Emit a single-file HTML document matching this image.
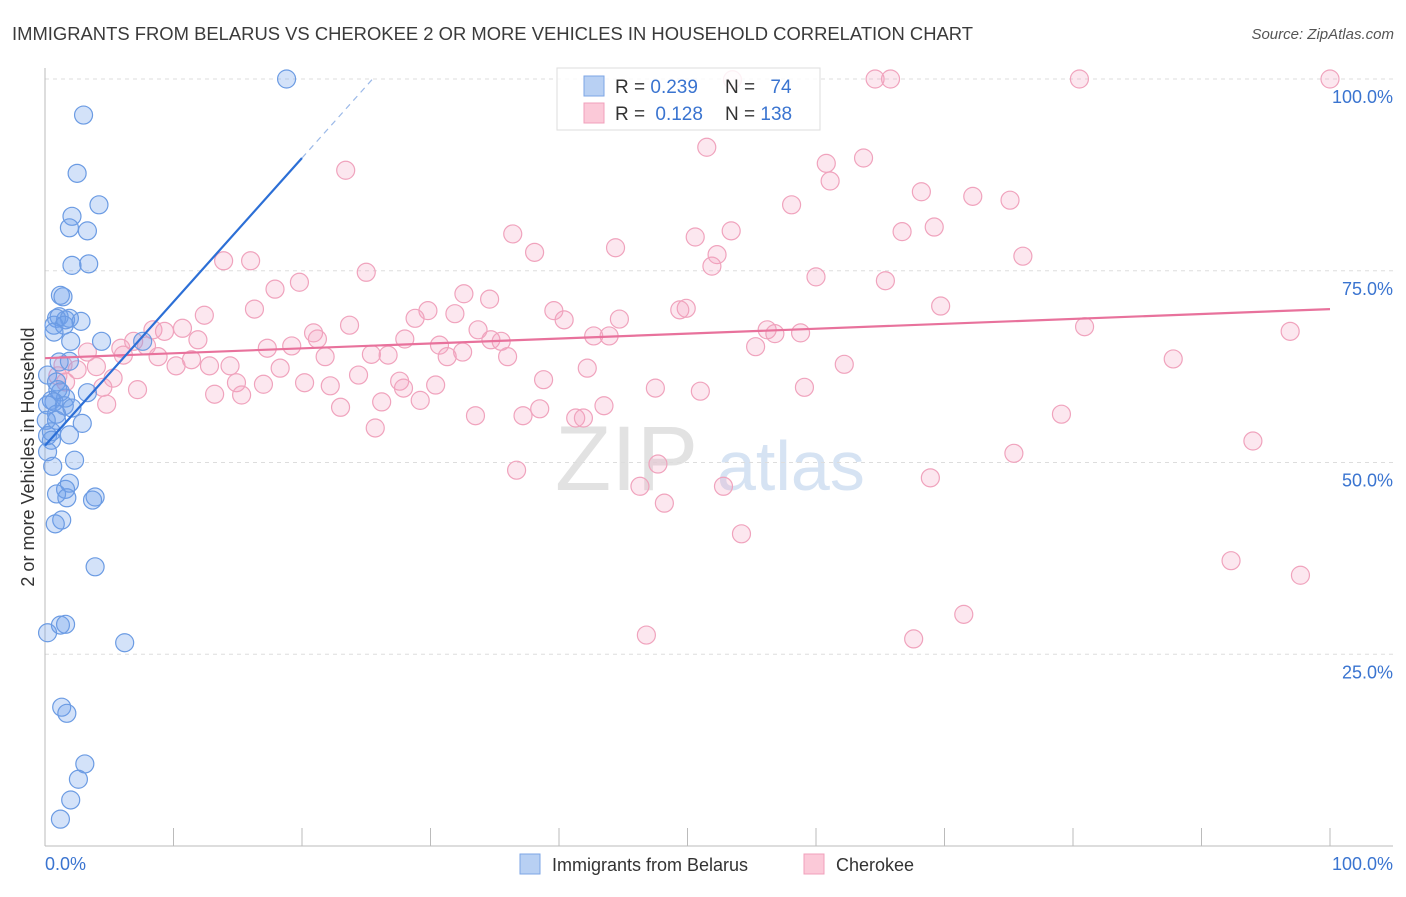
<!DOCTYPE html>
<html><head><meta charset="utf-8"><style>
body{margin:0;background:#fff;font-family:"Liberation Sans",sans-serif;}
svg text{font-family:"Liberation Sans",sans-serif;}
</style></head><body>
<svg id="chart" width="1406" height="892" xmlns="http://www.w3.org/2000/svg">
<text x="12" y="40" font-size="18" fill="#3a3a3a" textLength="961" lengthAdjust="spacingAndGlyphs">IMMIGRANTS FROM BELARUS VS CHEROKEE 2 OR MORE VEHICLES IN HOUSEHOLD CORRELATION CHART</text>
<text x="1394" y="39" font-size="15" fill="#555" text-anchor="end" font-style="italic">Source: ZipAtlas.com</text>
<text x="555" y="490" font-size="92" fill="#e2e2e2" font-family="Liberation Serif">ZIP</text>
<text x="717" y="490" font-size="70" fill="#d6e3f3">atlas</text>
<g id="grid"></g>
<g id="axes"></g>
<g id="pink"></g>
<g id="blue"></g>
<g id="lines"></g>
<text transform="translate(34,457) rotate(-90)" font-size="18" fill="#333" text-anchor="middle">2 or more Vehicles in Household</text>
<text x="45" y="870" font-size="18" fill="#3a74d0">0.0%</text>
<text x="1393" y="870" font-size="18" fill="#3a74d0" text-anchor="end">100.0%</text>
<g>
<rect x="557" y="68" width="263" height="62" fill="rgba(255,255,255,0.85)" stroke="#ddd"/>
<rect x="584" y="76" width="20" height="20" fill="#b8d0f3" stroke="#7da6e6"/>
<rect x="584" y="103" width="20" height="20" fill="#fbc9d8" stroke="#f0a0bb"/>
<text x="615" y="93" font-size="19" fill="#333">R = <tspan fill="#3a74d0">0.239</tspan></text>
<text x="725" y="93" font-size="19" fill="#333">N = <tspan fill="#3a74d0" dx="10">74</tspan></text>
<text x="615" y="120" font-size="19" fill="#333">R = <tspan fill="#3a74d0" dx="5">0.128</tspan></text>
<text x="725" y="120" font-size="19" fill="#333">N = <tspan fill="#3a74d0">138</tspan></text>
</g>
<g>
<rect x="520" y="854" width="20" height="20" fill="#b8d0f3" stroke="#7da6e6"/>
<text x="552" y="871" font-size="18" fill="#333">Immigrants from Belarus</text>
<rect x="804" y="854" width="20" height="20" fill="#fbc9d8" stroke="#f0a0bb"/>
<text x="836" y="871" font-size="18" fill="#333">Cherokee</text>
</g>
</svg>
<script>
const yTicks=[25,50,75,100];
const yTickLabels=["25.0%","50.0%","75.0%","100.0%"];
const xTicks=[0,10,20,30,40,50,60,70,80,90,100];
const blueX=[18.8,3.0,2.5,4.2,2.1,1.9,3.3,2.1,3.4,1.2,1.4,1.1,1.6,0.9,1.9,2.8,0.7,1.5,0.7,2.0,4.4,7.6,1.1,1.9,0.2,0.9,1.0,1.2,3.3,1.6,0.5,0.7,0.2,1.5,2.1,0.9,2.9,0.9,0.1,0.5,0.2,1.9,0.5,0.2,2.3,0.6,1.9,1.6,0.9,3.9,3.7,1.7,1.3,0.8,3.9,0.2,1.2,1.6,6.2,1.3,1.7,3.1,2.6,2.0,1.2];
const blueY=[100,95.3,87.7,83.6,82.1,80.6,80.2,75.7,75.9,71.8,71.6,69.0,68.6,68.8,68.8,68.4,67.9,67.9,67.0,65.8,65.8,65.8,63.1,63.2,61.4,60.5,59.5,59.2,59.1,58.4,58.1,57.9,57.5,57.4,57.1,56.3,55.1,55.5,55.5,54.0,53.5,53.6,52.9,51.4,50.3,49.5,47.3,46.5,45.9,45.5,45.1,45.4,42.5,42.0,36.4,27.8,28.8,28.9,26.5,18.1,17.3,10.7,8.7,6.0,3.5];
const pinkX=[53.5,64.6,65.8,80.5,100,51.5,23.4,60.8,63.7,61.1,68.2,72.2,75.1,58.1,36.4,53.4,50.6,66.7,69.2,44.4,38.1,52.3,51.9,13.9,16.0,25.0,76.1,60.0,65.4,17.9,19.8,32.6,34.6,12.4,16.3,39.6,29.8,28.8,31.9,40.4,49.9,49.4,44.7,69.7,80.9,96.9,8.4,10.7,9.3,6.9,5.9,23.7,20.9,21.2,33.7,28.0,30.7,34.7,35.5,42.7,43.9,56.2,56.8,58.8,55.3,7.9,11.9,17.3,19.2,3.3,1.4,2.5,6.1,8.8,10.2,11.4,12.8,14.4,21.8,25.4,26.7,32.5,31.3,36.0,1.6,1.0,4.0,5.3,18.3,24.4,42.2,62.2,87.8,14.9,17.0,20.2,22.2,27.6,27.9,30.4,38.8,47.5,51.0,59.1,4.5,7.2,13.2,15.3,29.2,26.2,23.0,4.8,43.5,38.5,33.5,37.2,41.3,41.9,25.7,79.1,94.0,75.4,47.7,36.7,46.3,52.8,68.9,48.2,54.2,92.3,97.7,71.5,46.8,67.6];
const pinkY=[99.9,100,100,100,100,91.1,88.1,89.0,89.7,86.7,85.3,84.7,84.2,83.6,79.8,80.2,79.4,80.1,80.7,78.0,77.4,77.1,75.6,76.3,76.3,74.8,76.9,74.2,73.7,72.6,73.5,72.0,71.3,69.2,70.0,69.8,69.8,68.8,69.4,68.6,70.1,69.9,68.7,70.4,67.7,67.1,67.3,67.5,67.1,65.8,64.9,67.9,66.9,66.1,67.3,66.1,65.3,66.0,65.8,66.5,66.5,67.3,66.8,66.9,65.1,65.2,66.0,64.9,65.2,64.4,62.7,62.1,64.0,63.8,62.6,63.4,62.6,62.6,63.8,64.1,64.0,64.4,63.8,63.8,60.5,61.3,62.5,61.0,62.3,61.4,62.3,62.8,63.5,60.4,60.2,60.4,60.0,60.6,59.7,60.1,60.8,59.7,59.3,59.8,59.8,59.5,58.9,58.8,58.1,57.9,57.2,57.6,57.4,57.0,56.1,56.1,55.8,55.8,54.5,56.3,52.8,51.2,49.8,49.0,46.9,46.9,48.0,44.7,40.7,37.2,35.3,30.2,27.5,27.0];
const blueFit=[52.2,1.875];  // intercept, slope
const pinkFit=[63.6,0.064];
const X=v=>45+v*12.85, Y=v=>846-v*7.67;
const NS="http://www.w3.org/2000/svg";
function mk(parent,tag,attrs){const e=document.createElementNS(NS,tag);for(const k in attrs)e.setAttribute(k,attrs[k]);document.getElementById(parent).appendChild(e);return e;}
yTicks.forEach((t,i)=>{
  const g=mk('grid','line',{x1:45,x2:1393,y1:Y(t),y2:Y(t),stroke:'#ddd','stroke-dasharray':'4,4'});
  
  
  const l=mk('grid','text',{x:1393,y:Y(t)+24,'font-size':18,fill:'#3a74d0','text-anchor':'end'});
  l.textContent=yTickLabels[i];
  
  
});
let a=mk('axes','line',{x1:45,x2:45,y1:68,y2:846,stroke:'#bbb'});


a=mk('axes','line',{x1:45,x2:1393,y1:846,y2:846,stroke:'#bbb'});


xTicks.forEach(t=>{const e=mk('axes','line',{x1:X(t),x2:X(t),y1:828,y2:846,stroke:'#bbb'});
  
  });
pinkX.forEach((v,i)=>{const c=mk('pink','circle',{cx:X(v),cy:Y(pinkY[i]),r:9,fill:'rgba(245,160,190,0.25)',stroke:'#f0a3bd','stroke-width':1.2});
  
  });
blueX.forEach((v,i)=>{const c=mk('blue','circle',{cx:X(v),cy:Y(blueY[i]),r:9,fill:'rgba(110,160,235,0.3)',stroke:'#6b9be3','stroke-width':1.2});
  
  });
let ln=mk('lines','line',{x1:X(0),y1:Y(pinkFit[0]),x2:X(100),y2:Y(pinkFit[0]+pinkFit[1]*100),stroke:'#e8729c','stroke-width':2.2});


ln=mk('lines','line',{x1:X(0),y1:Y(blueFit[0]),x2:X(20),y2:Y(blueFit[0]+blueFit[1]*20),stroke:'#2c6fd6','stroke-width':2.2});


const xe=(100-blueFit[0])/blueFit[1];
ln=mk('lines','line',{x1:X(20),y1:Y(blueFit[0]+blueFit[1]*20),x2:X(xe),y2:Y(100),stroke:'#9bb9e8','stroke-width':1.2,'stroke-dasharray':'6,5'});


</script>
</body></html>
